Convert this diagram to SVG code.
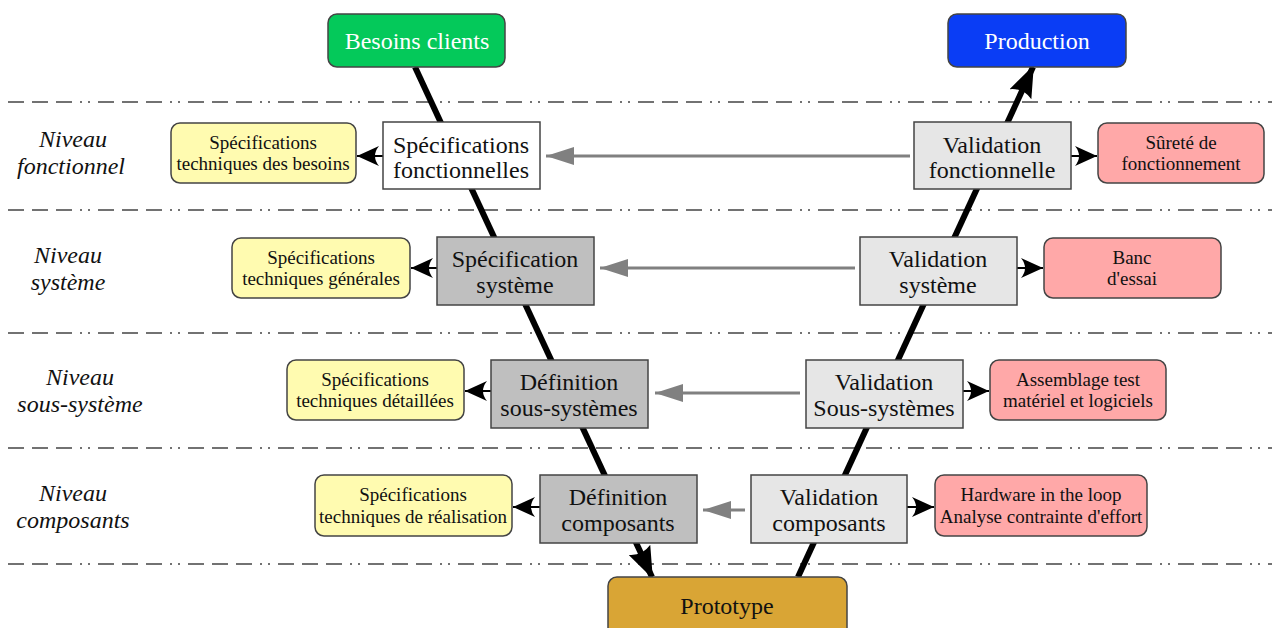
<svg xmlns="http://www.w3.org/2000/svg" width="1272" height="628" viewBox="0 0 1272 628">
<style>
  text { font-family: "Liberation Serif", "Times New Roman", serif; text-anchor: middle; }
  .lvl { font-size: 24px; font-style: italic; fill: #111; }
  .big { font-size: 24px; fill: #111; }
  .small { font-size: 19px; fill: #111; }
  .title { font-size: 24px; fill: #fff; }
  .box { stroke: #444; stroke-width: 1.5; }
  .white { fill: #ffffff; }
  .gray { fill: #bfbfbf; }
  .lgray { fill: #e6e6e6; }
  .yellow { fill: #fffbb0; }
  .pink { fill: #ffa8a8; }
  .sep { stroke: #444; stroke-width: 1.5; stroke-dasharray: 16 8 16 8 16 8 2 6 2 8; fill: none; }
  .v { stroke: #000; stroke-width: 6; fill: none; }
  .blk { stroke: #000; stroke-width: 2; fill: none; }
  .gr { stroke: #808080; stroke-width: 3; fill: none; }
</style>
<defs>
  <marker id="bigHead" markerUnits="userSpaceOnUse" viewBox="0 0 32 24" refX="30" refY="12" markerWidth="32" markerHeight="24" orient="auto">
    <path d="M0,0 L32,12 L0,24 Q7,12 0,0 Z" fill="#000"/>
  </marker>
  <marker id="blkHead" markerUnits="userSpaceOnUse" viewBox="0 0 22 20" refX="22" refY="10" markerWidth="22" markerHeight="20" orient="auto">
    <path d="M0,0 L22,10 L0,20 Q8,10 0,0 Z" fill="#000"/>
  </marker>
  <marker id="grHead" markerUnits="userSpaceOnUse" viewBox="0 0 28 18" refX="28" refY="9" markerWidth="28" markerHeight="18" orient="auto">
    <path d="M0,0 L28,9 L0,18 Z" fill="#808080"/>
  </marker>
</defs>

<g id="separators">
  <line class="sep" x1="8" y1="102" x2="1272" y2="102"/>
  <line class="sep" x1="8" y1="210" x2="1272" y2="210"/>
  <line class="sep" x1="8" y1="333" x2="1272" y2="333"/>
  <line class="sep" x1="8" y1="448" x2="1272" y2="448"/>
  <line class="sep" x1="8" y1="564" x2="1272" y2="564"/>
</g>

<g id="levels">
  <text class="lvl" x="73" y="147">Niveau</text>
  <text class="lvl" x="71" y="174">fonctionnel</text>
  <text class="lvl" x="68" y="263">Niveau</text>
  <text class="lvl" x="68" y="290">système</text>
  <text class="lvl" x="80" y="385">Niveau</text>
  <text class="lvl" x="80" y="412">sous-système</text>
  <text class="lvl" x="73" y="501">Niveau</text>
  <text class="lvl" x="73" y="528">composants</text>
</g>

<g id="connectors">
  <line class="v" x1="415" y1="67" x2="652" y2="577" marker-end="url(#bigHead)"/>
  <line class="v" x1="798" y1="577" x2="1033" y2="67" marker-end="url(#bigHead)"/>
  <line class="blk" x1="383" y1="156" x2="357" y2="156" marker-end="url(#blkHead)"/>
  <line class="blk" x1="437" y1="268" x2="411" y2="268" marker-end="url(#blkHead)"/>
  <line class="blk" x1="491" y1="391" x2="465" y2="391" marker-end="url(#blkHead)"/>
  <line class="blk" x1="540" y1="507" x2="513" y2="507" marker-end="url(#blkHead)"/>
  <line class="blk" x1="1071" y1="156" x2="1097" y2="156" marker-end="url(#blkHead)"/>
  <line class="blk" x1="1017" y1="268" x2="1043" y2="268" marker-end="url(#blkHead)"/>
  <line class="blk" x1="963" y1="391" x2="989" y2="391" marker-end="url(#blkHead)"/>
  <line class="blk" x1="907" y1="507" x2="934" y2="507" marker-end="url(#blkHead)"/>
  <line class="gr" x1="910" y1="156" x2="546" y2="156" marker-end="url(#grHead)"/>
  <line class="gr" x1="855" y1="268" x2="600" y2="268" marker-end="url(#grHead)"/>
  <line class="gr" x1="800" y1="393" x2="655" y2="393" marker-end="url(#grHead)"/>
  <line class="gr" x1="745" y1="510" x2="703" y2="510" marker-end="url(#grHead)"/>
</g>

<g id="besoins-clients">
  <rect class="box" x="328" y="14" width="177" height="53" rx="9" fill="#04c95a"/>
  <text class="title" x="417" y="49">Besoins clients</text>
</g>
<g id="production">
  <rect class="box" x="948" y="14" width="178" height="53" rx="9" fill="#0a3df5"/>
  <text class="title" x="1037" y="49">Production</text>
</g>

<g id="spec-fonctionnelles">
  <rect class="box white" x="383" y="122" width="157" height="67"/>
  <text class="big" x="461" y="153">Spécifications</text>
  <text class="big" x="461" y="178">fonctionnelles</text>
</g>
<g id="stb">
  <rect class="box yellow" x="171" y="123" width="185" height="60" rx="9"/>
  <text class="small" x="263" y="149">Spécifications</text>
  <text class="small" x="263" y="170">techniques des besoins</text>
</g>
<g id="validation-fonctionnelle">
  <rect class="box lgray" x="914" y="122" width="157" height="67"/>
  <text class="big" x="992" y="153">Validation</text>
  <text class="big" x="992" y="178">fonctionnelle</text>
</g>
<g id="surete">
  <rect class="box pink" x="1098" y="123" width="166" height="60" rx="9"/>
  <text class="small" x="1181" y="149">Sûreté de</text>
  <text class="small" x="1181" y="170">fonctionnement</text>
</g>

<g id="spec-systeme">
  <rect class="box gray" x="437" y="237" width="157" height="68"/>
  <text class="big" x="515" y="267">Spécification</text>
  <text class="big" x="515" y="293">système</text>
</g>
<g id="stg">
  <rect class="box yellow" x="232" y="238" width="178" height="60" rx="9"/>
  <text class="small" x="321" y="264">Spécifications</text>
  <text class="small" x="321" y="285">techniques générales</text>
</g>
<g id="validation-systeme">
  <rect class="box lgray" x="860" y="237" width="157" height="68"/>
  <text class="big" x="938" y="267">Validation</text>
  <text class="big" x="938" y="293">système</text>
</g>
<g id="banc">
  <rect class="box pink" x="1044" y="238" width="177" height="60" rx="9"/>
  <text class="small" x="1132" y="264">Banc</text>
  <text class="small" x="1132" y="285">d'essai</text>
</g>

<g id="def-sous-systemes">
  <rect class="box gray" x="491" y="360" width="157" height="68"/>
  <text class="big" x="569" y="390">Définition</text>
  <text class="big" x="569" y="416">sous-systèmes</text>
</g>
<g id="std">
  <rect class="box yellow" x="287" y="360" width="177" height="60" rx="9"/>
  <text class="small" x="375" y="386">Spécifications</text>
  <text class="small" x="375" y="407">techniques détaillées</text>
</g>
<g id="validation-sous-systemes">
  <rect class="box lgray" x="806" y="360" width="157" height="68"/>
  <text class="big" x="884" y="390">Validation</text>
  <text class="big" x="884" y="416">Sous-systèmes</text>
</g>
<g id="assemblage">
  <rect class="box pink" x="990" y="360" width="176" height="60" rx="9"/>
  <text class="small" x="1078" y="386">Assemblage test</text>
  <text class="small" x="1078" y="407">matériel et logiciels</text>
</g>

<g id="def-composants">
  <rect class="box gray" x="540" y="475" width="157" height="68"/>
  <text class="big" x="618" y="505">Définition</text>
  <text class="big" x="618" y="531">composants</text>
</g>
<g id="str">
  <rect class="box yellow" x="315" y="475" width="197" height="61" rx="9"/>
  <text class="small" x="413" y="501">Spécifications</text>
  <text class="small" x="413" y="523">techniques de réalisation</text>
</g>
<g id="validation-composants">
  <rect class="box lgray" x="751" y="475" width="156" height="68"/>
  <text class="big" x="829" y="505">Validation</text>
  <text class="big" x="829" y="531">composants</text>
</g>
<g id="hil">
  <rect class="box pink" x="935" y="475" width="212" height="61" rx="9"/>
  <text class="small" x="1041" y="501">Hardware in the loop</text>
  <text class="small" x="1041" y="523">Analyse contrainte d'effort</text>
</g>

<g id="prototype">
  <rect class="box" x="608" y="577" width="239" height="60" rx="9" fill="#d9a535"/>
  <text class="big" x="727" y="614">Prototype</text>
</g>
</svg>
